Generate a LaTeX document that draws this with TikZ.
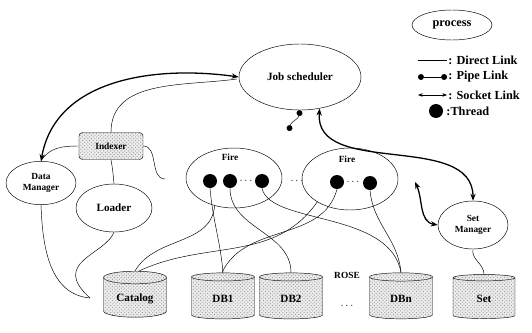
\documentclass[tikz,border=0pt]{standalone}
\usepackage{fontspec}
\setmainfont{Liberation Serif}
\usepackage{tikz}
\usetikzlibrary{arrows.meta,positioning,calc,shapes.geometric,patterns}

\begin{document}
\begin{tikzpicture}[x=0.03cm,y=-0.03cm,font=\fontsize{9.5}{11}\selectfont\bfseries,
    proc/.style={draw,ellipse,thin,align=center,inner sep=0pt},
    thread/.style={circle,fill=black,inner sep=0pt,minimum size=0.42cm},
    dbase/.style={draw,cylinder,shape border rotate=90,aspect=0.28,
        minimum width=1.89cm,minimum height=1.38cm,
        fill=gray!15,postaction={pattern=crosshatch dots,pattern color=gray!85}},
    direct/.style={thin},
    pipe/.style={thin,{Circle[length=5pt]}-{Circle[length=5pt]}},
    socket/.style={line width=1.1pt,{Stealth[length=6pt,width=4.5pt]}-{Stealth[length=6pt,width=4.5pt]}},
    small/.style={font=\fontsize{8}{9.5}\selectfont\bfseries},
    legend/.style={anchor=west,inner sep=1pt,font=\fontsize{10.5}{12}\selectfont\bfseries}]
\useasboundingbox (0,0) rectangle (532,332);

% processes
\node[proc,minimum width=3.66cm,minimum height=1.98cm] (js) at (300,77) {Job scheduler};
\node[proc,minimum width=2.1cm,minimum height=1.3cm,small] (dm) at (41,183) {Data\\Manager};
\node[proc,minimum width=2.28cm,minimum height=1.44cm] (ld) at (114,208) {Loader};
\node[proc,minimum width=2.1cm,minimum height=1.44cm,small] (sm) at (473,225) {Set\\Manager};
\node[draw,rounded corners=3pt,minimum width=1.92cm,minimum height=0.81cm,small,
    fill=gray!15,postaction={pattern=crosshatch dots,pattern color=gray!85}] (ix) at (111,146) {Indexer};

% fire processes with threads
\node[proc,minimum width=2.88cm,minimum height=1.8cm] (f1) at (234,178) {};
\node[proc,minimum width=2.88cm,minimum height=1.86cm] (f2) at (350,179) {};
\node[small] at (230,157) {Fire};
\node[small] at (347,159) {Fire};
\node[thread] (f1a) at (210,181) {};
\node[thread] (f1b) at (230,181) {};
\node[thread] (f1c) at (262,181) {};
\node[thread] (f2a) at (337,182) {};
\node[thread] (f2b) at (370,183) {};
\node at (246,181) {$\cdots$};
\node at (353,182) {$\cdots$};
\node at (297,181) {$\cdots$};

% databases
\node[dbase] (cat) at (135,299) {Catalog};
\node[dbase] (db1) at (223,299) {DB1};
\node[dbase] (db2) at (291,299) {DB2};
\node[dbase] (dbn) at (401,299) {DBn};
\node[dbase,minimum width=1.86cm,minimum height=1.32cm] (set) at (484,299) {Set};
\node[small] at (347,275) {ROSE};
\node at (347,306) {$\cdots$};

% free ends
\coordinate (ixend) at (165,179);
\coordinate (catjoin) at (90,298);
\coordinate (pipeend) at (289,131);
\coordinate (sockend) at (415,182);

% direct links
\draw[direct] (ix.north) to[out=90,in=188] ($(js.west)+(-2,2)$);
\draw[direct] (ix.west) to[out=180,in=60] (dm.north);
\draw[direct] (ix.east) to[out=0,in=180] (ixend);
\draw[direct] (ix.south) to[out=-80,in=95] (ld.north);
\draw[direct] (dm.south) to[out=-88,in=175] (catjoin);
\draw[direct] (ld.south) .. controls (105,255) and (50,262) .. (catjoin);
\draw[direct] (f1.235) to[out=-95,in=60] (cat.north);
\draw[direct] (f2.215) to[out=-125,in=25] ($(cat.north)+(4,0)$);
\draw[direct] (f2a.south) to[out=-105,in=65] ($(db1.north)+(-1,0)$);
\draw[direct] (f1a.south) to[out=-85,in=95] (db1.north);
\draw[direct] (f1b.south) to[out=-90,in=90] (db2.north);
\draw[direct] (f1c.south) .. controls (270,225) and (390,210) .. (dbn.north);
\draw[direct] (f2b.south) to[out=-85,in=95] (dbn.north);
\draw[direct] (sm.south) to[out=-100,in=90] (set.north);

% pipe and socket links
\draw[pipe] (js.south) to[out=-100,in=80] (pipeend);
\draw[socket] (js.west) to[out=172,in=80] (dm.north);
\draw[socket] (js.-58) to[out=-95,in=90] (sm.north);
\draw[socket] (sockend) to[out=-65,in=170] (sm.west);

% legend
\node[proc,minimum width=2.4cm,minimum height=0.9cm,font=\fontsize{10.5}{12}\selectfont\bfseries] (lp) at (452,25) {process};
\coordinate (l1a) at (418,60); \coordinate (l1b) at (447,60);
\coordinate (l2a) at (418,77); \coordinate (l2b) at (447,77);
\coordinate (l3a) at (418,95); \coordinate (l3b) at (447,95);
\draw[direct] (l1a) -- (l1b);
\draw[pipe] (l2a) -- (l2b);
\draw[thin,{Stealth[length=4pt]}-{Stealth[length=4pt]}] (l3a) -- (l3b);
\node[legend] at (l1b) {: Direct Link};
\node[legend] at (l2b) {: Pipe Link};
\node[legend] at (l3b) {: Socket Link};
\node[thread] (lt) at (436,111) {};
\node[legend] at (445,111) {:Thread};
\end{tikzpicture}
\end{document}
